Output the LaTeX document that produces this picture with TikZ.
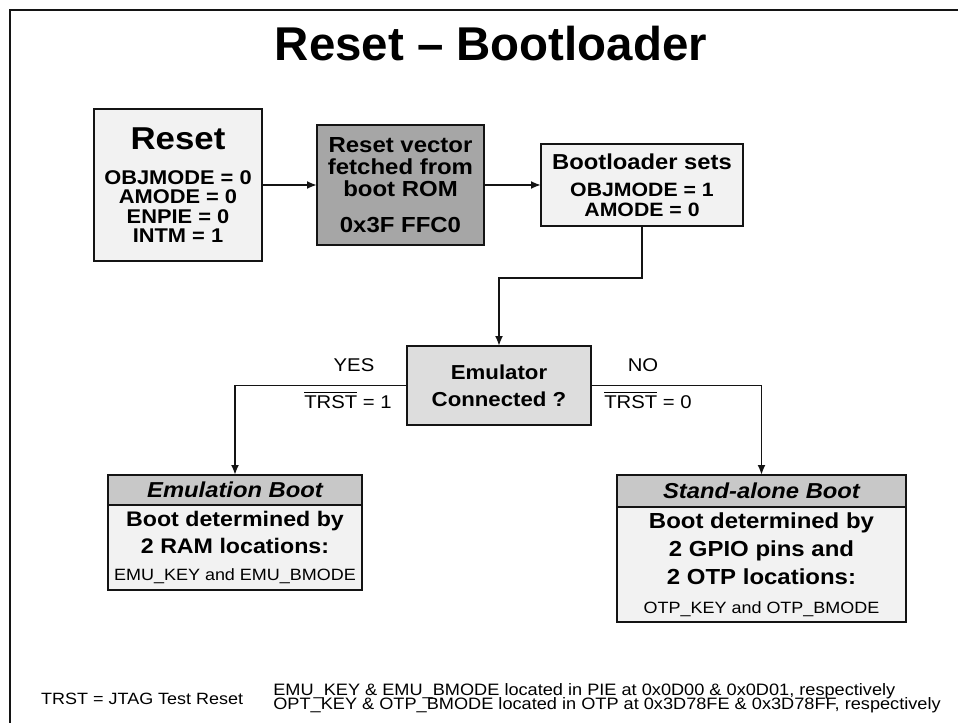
\documentclass[tikz,border=0pt]{standalone}
\usepackage{fontspec}
\setmainfont{Liberation Sans}[FakeStretch=1.1]
\newfontfamily\titlefont{Liberation Sans}
\usetikzlibrary{arrows.meta,positioning}
\usepackage{xcolor}
\definecolor{boxlight}{RGB}{242,242,242}
\definecolor{boxdark}{RGB}{166,166,166}
\definecolor{boxmid}{RGB}{221,221,221}
\definecolor{boxhead}{RGB}{200,200,200}
\definecolor{lineblack}{RGB}{20,20,20}
\newcommand{\fsz}[2]{\fontsize{#1}{#2}\selectfont}

\begin{document}
\begin{tikzpicture}[x=0.02cm, y=-0.02cm,
  blk/.style={rectangle, draw=lineblack, line width=0.8pt, align=center, inner sep=0pt, outer sep=0pt},
  flow/.style={-{Latex[length=2mm,width=1.6mm]}, line width=1.1pt, lineblack},
  lbl/.style={font=\fsz{10.5}{12}}]
\useasboundingbox (0,0) rectangle (958,723);
\draw[line width=1.7pt, lineblack] (10,723) -- (10,10) -- (958,10);
\node[font=\titlefont\bfseries\fsz{27}{30}] (title) at (491,44) {Reset – Bootloader};

\node[blk, fill=boxlight, minimum width=3.36cm, minimum height=3.04cm, font=\bfseries\fsz{11.3}{11}] (reset) at (178,185)
  {{\fsz{18}{18}Reset}\\[9pt] OBJMODE = 0\\ AMODE = 0\\ ENPIE = 0\\ INTM = 1};
\node[blk, fill=boxdark, minimum width=3.34cm, minimum height=2.4cm, font=\bfseries\fsz{12.4}{12.5}] (vec) at (400.5,185)
  {Reset vector\\ fetched from\\ boot ROM\\[8pt] 0x3F FFC0};
\node[blk, fill=boxlight, minimum width=4.04cm, minimum height=1.64cm, font=\bfseries\fsz{11}{11.4}] (boot) at (642,185)
  {{\fsz{12.3}{12}Bootloader sets}\\[4pt] OBJMODE = 1\\ AMODE = 0};
\node[blk, fill=boxmid, minimum width=3.68cm, minimum height=1.58cm, font=\bfseries\fsz{11.5}{15.4}] (emu) at (499,385.5)
  {Emulator\\ Connected ?};

% boot paths
\node[blk, fill=boxhead, minimum width=5.08cm, minimum height=0.6cm, font=\bfseries\itshape\fsz{12.3}{12}] (emuhead) at (235,490) {Emulation Boot};
\node[blk, fill=boxlight, minimum width=5.08cm, minimum height=1.7cm, below=0pt of emuhead, font=\bfseries\fsz{12}{15.6}] (emubody)
  {Boot determined by\\ 2 RAM locations:\\ {\normalfont\fsz{9.3}{10}EMU\_KEY and EMU\_BMODE}};
\node[blk, fill=boxhead, minimum width=5.78cm, minimum height=0.64cm, font=\bfseries\itshape\fsz{12.3}{12}] (sahead) at (761.5,491) {Stand-alone Boot};
\node[blk, fill=boxlight, minimum width=5.78cm, minimum height=2.3cm, below=0pt of sahead, font=\bfseries\fsz{12.4}{16.2}] (sabody)
  {Boot determined by\\ 2 GPIO pins and\\ 2 OTP locations:\\ {\normalfont\fsz{9.3}{10}OTP\_KEY and OTP\_BMODE}};

\node[lbl] (yes) at (354,365) {YES};
\node[lbl] (trstyes) at (348,400) {$\overline{\mbox{TRST}}$ = 1};
\node[lbl] (no) at (643,365) {NO};
\node[lbl] (trstno) at (648,400) {$\overline{\mbox{TRST}}$ = 0};

\draw[flow] (reset) -- (vec);
\draw[flow] (vec) -- (boot);
\draw[flow] (boot.south) -- ++(0,52) -| (emu.north);
\draw[flow] (emu.west) -| (emuhead.north);
\draw[flow] (emu.east) -| (sahead.north);

% notes
\node[anchor=west, font=\fsz{9.3}{12}] (trstnote) at (35,699) {TRST = JTAG Test Reset};
\node[anchor=west, align=left, inner sep=0pt, font=\fsz{9.4}{12}] (locnote) at (273,698.5)
  {EMU\_KEY \& EMU\_BMODE located in PIE at 0x0D00 \& 0x0D01, respectively\\[-3.8pt]
   OPT\_KEY \& OTP\_BMODE located in OTP at 0x3D78FE \& 0x3D78FF, respectively};
\end{tikzpicture}
\end{document}
